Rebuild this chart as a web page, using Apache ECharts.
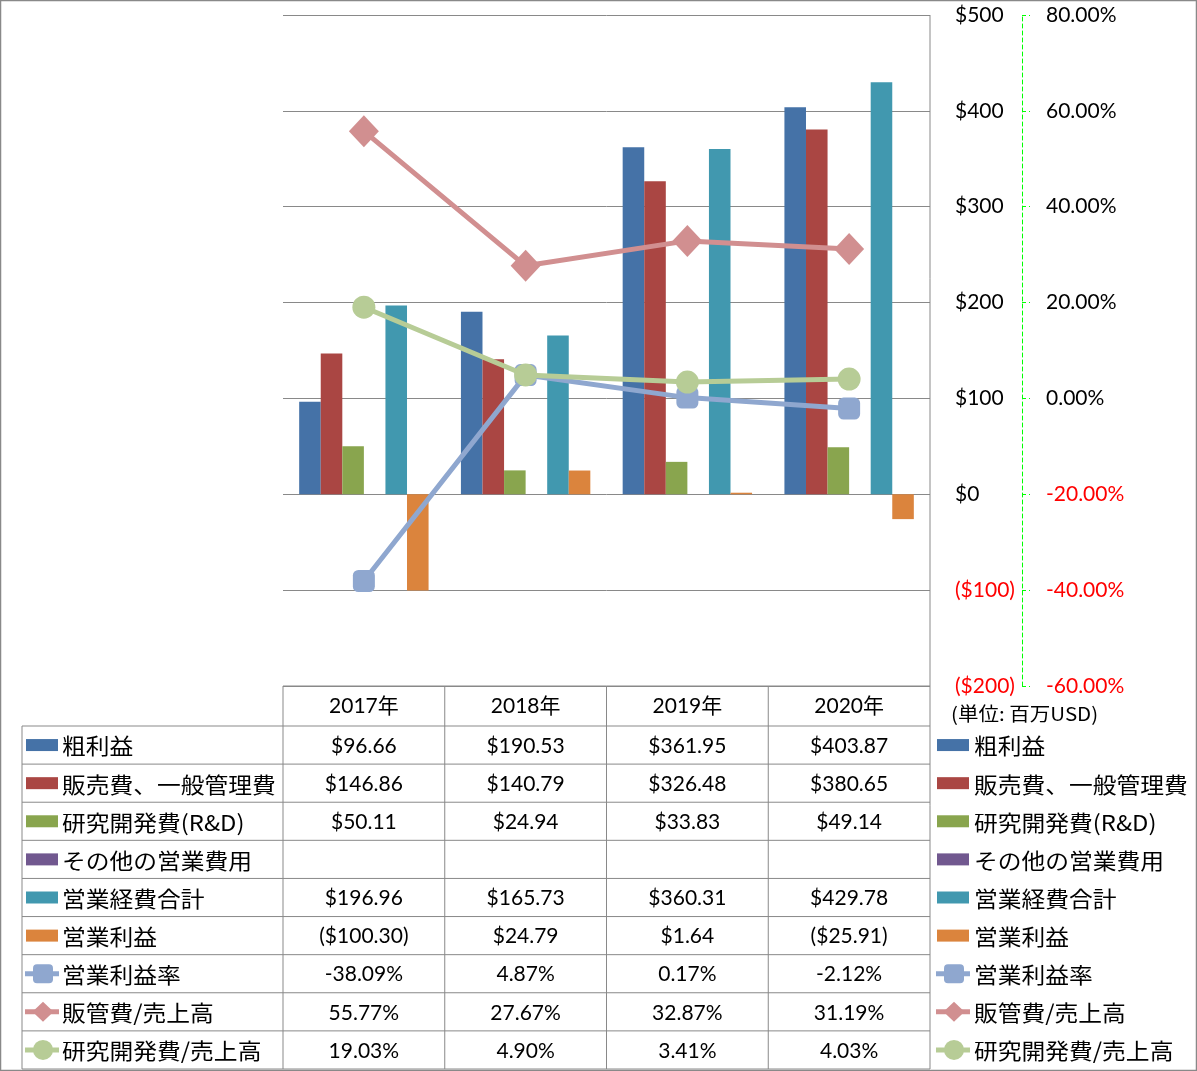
<!DOCTYPE html>
<html>
<head>
<meta charset="utf-8">
<script src="https://cdn.jsdelivr.net/npm/echarts@6/dist/echarts.min.js"></script>
<style>
html,body{margin:0;padding:0;background:#fff;}
#chart{width:1197px;height:1071px;}
</style>
</head>
<body>
<div id="chart"></div>
<script>
// ---- data ----
var categories = ['2017年', '2018年', '2019年', '2020年'];
var grossProfit = [96.66, 190.53, 361.95, 403.87];
var sgaExpense = [146.86, 140.79, 326.48, 380.65];
var rndExpense = [50.11, 24.94, 33.83, 49.14];
var otherOpex = [null, null, null, null];
var totalOpex = [196.96, 165.73, 360.31, 429.78];
var operatingIncome = [-100.30, 24.79, 1.64, -25.91];
var operatingMargin = [-38.09, 4.87, 0.17, -2.12];
var sgaRatio = [55.77, 27.67, 32.87, 31.19];
var rndRatio = [19.03, 4.90, 3.41, 4.03];
var seriesNames = ['粗利益', '販売費、一般管理費', '研究開発費(R&D)', 'その他の営業費用', '営業経費合計', '営業利益', '営業利益率', '販管費/売上高', '研究開発費/売上高'];
var usdTicks = {min: -200, max: 500, interval: 100};
var pctTicks = {min: -60, max: 80, interval: 20};
var unitNote = '(単位: 百万USD)';

// ---- style ----
var barColors = ['#4572A7', '#AA4643', '#89A54E', '#71588F', '#4198AF', '#DB843D'];
var lineColors = ['#8FA7CF', '#D18F90', '#B7CC96'];
var lineSymbols = ['roundRect', 'diamond', 'circle'];
var lineSymbolSizes = [22, [30, 32], 23];
var FONT_LAT = 'Lato, "Noto Sans CJK JP", sans-serif';
var FONT_JP = '"Noto Sans CJK JP", sans-serif';
var GRID_COLOR = '#898989';

var W = 1197, H = 1071;
var GL = 283, GR = 930, GT = 15, GB = 686;
var HEADER_H = 40;
var TABLE_BOTTOM = 1069;
var ROW_TOP = GB + HEADER_H;
var ROW_H = (TABLE_BOTTOM - ROW_TOP) / seriesNames.length;
var LABEL_LEFT = 22;
var colW = (GR - GL) / categories.length;

function fmtUSD(v) {
  if (v === null || v === undefined) return '';
  return v < 0 ? '($' + Math.abs(v).toFixed(2) + ')' : '$' + v.toFixed(2);
}
function fmtPct(v) {
  if (v === null || v === undefined) return '';
  return v.toFixed(2) + '%';
}

var barData = [grossProfit, sgaExpense, rndExpense, otherOpex, totalOpex, operatingIncome];
var lineData = [operatingMargin, sgaRatio, rndRatio];

var series = [];
barData.forEach(function (d, i) {
  series.push({
    name: seriesNames[i], type: 'bar', yAxisIndex: 0, data: d,
    barGap: '0%', barCategoryGap: '20%',
    itemStyle: {color: barColors[i]}, z: 2
  });
});
lineData.forEach(function (d, i) {
  series.push({
    name: seriesNames[6 + i], type: 'line', yAxisIndex: 1, data: d,
    symbol: lineSymbols[i], symbolSize: lineSymbolSizes[i],
    lineStyle: {color: lineColors[i], width: 5},
    itemStyle: {color: lineColors[i]}, z: 3 + i
  });
});

// ---- graphic: table, legend keys, borders ----
var g = [];
function hline(x1, x2, y) {
  g.push({type: 'line', shape: {x1: x1, y1: y, x2: x2, y2: y}, style: {stroke: GRID_COLOR, lineWidth: 1}, silent: true});
}
function vline(x, y1, y2) {
  g.push({type: 'line', shape: {x1: x, y1: y1, x2: x, y2: y2}, style: {stroke: GRID_COLOR, lineWidth: 1}, silent: true});
}
function text(str, x, y, font, align, fill, sx) {
  g.push({type: 'text', silent: true, x: x, y: y, scaleX: sx || 1,
    style: {text: str, x: 0, y: 0, font: font, fill: fill || '#000',
    textAlign: align, align: align, textVerticalAlign: 'middle', verticalAlign: 'middle'}});
}
// outer border
g.push({type: 'rect', shape: {x: 0.5, y: 0.5, width: W - 1, height: H - 1}, style: {fill: 'none', stroke: GRID_COLOR, lineWidth: 1.5}, silent: true});
// plot right border down through table
vline(GR, GT, TABLE_BOTTOM);
// header row
hline(GL, GR, GB);
for (var c = 0; c < categories.length; c++) {
  vline(GL + c * colW, GB, TABLE_BOTTOM);
  text(categories[c], GL + (c + 0.5) * colW, GB + HEADER_H / 2, '21px ' + FONT_LAT, 'center');
}
// rows
vline(LABEL_LEFT, ROW_TOP, TABLE_BOTTOM);
var rowValues = barData.concat(lineData);
for (var r = 0; r <= seriesNames.length; r++) {
  hline(LABEL_LEFT, GR, ROW_TOP + r * ROW_H);
}
function legendKey(i, x, cy) {
  if (i < 6) {
    g.push({type: 'rect', silent: true, shape: {x: x, y: cy - 6, width: 32, height: 12}, style: {fill: barColors[i]}});
  } else {
    var k = i - 6, col = lineColors[k];
    g.push({type: 'line', silent: true, shape: {x1: x - 1, y1: cy, x2: x + 33, y2: cy}, style: {stroke: col, lineWidth: 5}});
    var mx = x + 17;
    if (k === 0) g.push({type: 'rect', silent: true, shape: {x: mx - 10, y: cy - 9.5, width: 20, height: 19, r: 4}, style: {fill: col}});
    else if (k === 1) g.push({type: 'polygon', silent: true, shape: {points: [[mx, cy - 10], [mx + 10.5, cy], [mx, cy + 10], [mx - 10.5, cy]]}, style: {fill: col}});
    else g.push({type: 'circle', silent: true, shape: {cx: mx, cy: cy, r: 10}, style: {fill: col}});
  }
}
var JP_STRETCH = 1.08;
for (var i = 0; i < seriesNames.length; i++) {
  var cy = ROW_TOP + (i + 0.5) * ROW_H;
  legendKey(i, 26, cy);
  text(seriesNames[i], 62, cy + 1, '22px ' + FONT_JP, 'left', '#000', JP_STRETCH);
  legendKey(i, 937, cy);
  text(seriesNames[i], 974, cy + 1, '22px ' + FONT_JP, 'left', '#000', JP_STRETCH);
  var vals = rowValues[i];
  for (var c2 = 0; c2 < categories.length; c2++) {
    var s = i < 6 ? fmtUSD(vals[c2]) : fmtPct(vals[c2]);
    text(s, GL + (c2 + 0.5) * colW, cy + 1, '21px ' + FONT_LAT, 'center');
  }
}
text(unitNote, 951, 714, '19px ' + FONT_JP, 'left', '#000', 1.08);

var chart = echarts.init(document.getElementById('chart'), null, {renderer: 'canvas'});
chart.setOption({
  backgroundColor: '#fff',
  animation: false,
  grid: {left: GL, right: W - GR, top: GT, bottom: H - GB, containLabel: false},
  xAxis: {
    type: 'category', data: categories,
    axisLine: {show: false}, axisTick: {show: false}, axisLabel: {show: false}, splitLine: {show: false}
  },
  yAxis: [
    {
      type: 'value', position: 'right', min: usdTicks.min, max: usdTicks.max, interval: usdTicks.interval,
      axisLine: {show: false}, axisTick: {show: false},
      splitLine: {show: true, lineStyle: {color: GRID_COLOR, width: 1}},
      axisLabel: {
        margin: 25, fontSize: 21, fontFamily: FONT_LAT,
        color: function (v) { return v < 0 ? '#FF0000' : '#000'; },
        formatter: function (v) { return v < 0 ? '($' + Math.abs(v) + ')' : '$' + v; }
      }
    },
    {
      type: 'value', position: 'right', offset: 92, min: pctTicks.min, max: pctTicks.max, interval: pctTicks.interval,
      axisLine: {show: true, lineStyle: {color: '#00FF00', width: 1, type: [4, 3]}},
      axisTick: {show: true, length: 8, lineStyle: {color: '#00FF00', width: 1, type: [4, 3]}},
      splitLine: {show: false},
      axisLabel: {
        margin: 24, fontSize: 21, fontFamily: FONT_LAT,
        color: function (v) { return v < 0 ? '#FF0000' : '#000'; },
        formatter: function (v) { return v.toFixed(2) + '%'; }
      }
    }
  ],
  series: series,
  graphic: {elements: g}
});
</script>
</body>
</html>
